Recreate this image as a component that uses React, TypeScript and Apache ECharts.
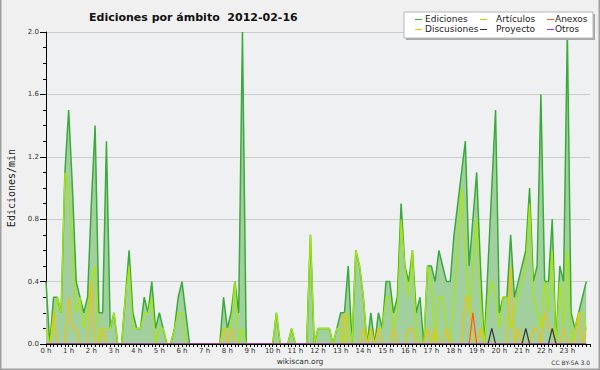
import React, { useEffect, useRef } from "react";
import * as echarts from "echarts";

const hourLabels = [
  "0 h", "1 h", "2 h", "3 h", "4 h", "5 h", "6 h", "7 h", "8 h", "9 h", "10 h", "11 h",
  "12 h", "13 h", "14 h", "15 h", "16 h", "17 h", "18 h", "19 h", "20 h", "21 h", "22 h", "23 h",
];
const yTickLabels = ["0.0", "0.4", "0.8", "1.2", "1.6", "2.0"];

// 10-minute samples, edits per minute
const ediciones = [
  0.4, 0.0, 0.3, 0.3, 0.2, 1.1, 1.5, 1.0, 0.4, 0.3, 0.2, 0.3,
  0.9, 1.4, 0.2, 0.2, 1.3, 0.1, 0.2, 0.0, 0.0, 0.3, 0.6, 0.2,
  0.1, 0.1, 0.3, 0.2, 0.4, 0.1, 0.2, 0.1, 0.0, 0.0, 0.1, 0.3,
  0.4, 0.2, 0.0, 0.0, 0.0, 0.0, 0.0, 0.0, 0.0, 0.0, 0.0, 0.3,
  0.1, 0.2, 0.4, 0.2, 2.0, 0.0, 0.0, 0.0, 0.0, 0.0, 0.0, 0.0,
  0.0, 0.2, 0.0, 0.0, 0.0, 0.1, 0.0, 0.0, 0.0, 0.0, 0.7, 0.0,
  0.1, 0.1, 0.1, 0.1, 0.0, 0.1, 0.2, 0.2, 0.5, 0.0, 0.6, 0.5,
  0.3, 0.0, 0.2, 0.0, 0.2, 0.1, 0.4, 0.4, 0.2, 0.3, 0.9, 0.5,
  0.4, 0.6, 0.2, 0.3, 0.0, 0.5, 0.5, 0.4, 0.6, 0.5, 0.4, 0.4,
  0.7, 0.9, 1.1, 1.3, 0.5, 0.8, 1.1, 0.5, 0.0, 0.5, 1.0, 1.5,
  0.2, 0.3, 0.3, 0.7, 0.3, 0.4, 0.5, 0.6, 1.0, 0.4, 0.5, 1.6,
  0.4, 0.4, 0.8, 0.0, 0.5, 0.4, 2.0, 0.2, 0.1, 0.2, 0.3, 0.4,
];
const articulos = [
  0.1, 0.0, 0.1, 0.3, 0.2, 1.1, 1.0, 0.6, 0.2, 0.3, 0.1, 0.2,
  0.4, 0.5, 0.0, 0.1, 0.1, 0.1, 0.2, 0.0, 0.0, 0.3, 0.5, 0.1,
  0.1, 0.1, 0.2, 0.2, 0.3, 0.0, 0.1, 0.1, 0.0, 0.0, 0.1, 0.2,
  0.2, 0.0, 0.0, 0.0, 0.0, 0.0, 0.0, 0.0, 0.0, 0.0, 0.0, 0.1,
  0.1, 0.1, 0.4, 0.0, 0.1, 0.0, 0.0, 0.0, 0.0, 0.0, 0.0, 0.0,
  0.0, 0.2, 0.0, 0.0, 0.0, 0.1, 0.0, 0.0, 0.0, 0.0, 0.7, 0.0,
  0.1, 0.1, 0.1, 0.1, 0.0, 0.1, 0.1, 0.0, 0.2, 0.0, 0.6, 0.5,
  0.3, 0.0, 0.1, 0.0, 0.1, 0.1, 0.3, 0.3, 0.1, 0.2, 0.8, 0.5,
  0.3, 0.6, 0.1, 0.0, 0.0, 0.5, 0.4, 0.0, 0.3, 0.3, 0.1, 0.0,
  0.3, 0.6, 1.0, 0.6, 0.2, 0.5, 0.8, 0.3, 0.0, 0.3, 0.4, 0.3,
  0.1, 0.3, 0.3, 0.1, 0.2, 0.3, 0.4, 0.5, 0.9, 0.3, 0.2, 0.1,
  0.4, 0.2, 0.6, 0.0, 0.4, 0.1, 0.6, 0.0, 0.1, 0.2, 0.2, 0.1,
];
const discusiones = [
  0.0, 0.0, 0.2, 0.0, 0.0, 0.0, 0.3, 0.1, 0.1, 0.0, 0.0, 0.0,
  0.4, 0.0, 0.0, 0.1, 0.0, 0.0, 0.0, 0.0, 0.0, 0.0, 0.0, 0.0,
  0.0, 0.0, 0.0, 0.0, 0.0, 0.0, 0.0, 0.0, 0.0, 0.0, 0.0, 0.0,
  0.0, 0.0, 0.0, 0.0, 0.0, 0.0, 0.0, 0.0, 0.0, 0.0, 0.0, 0.1,
  0.0, 0.1, 0.0, 0.0, 0.0, 0.0, 0.0, 0.0, 0.0, 0.0, 0.0, 0.0,
  0.0, 0.0, 0.0, 0.0, 0.0, 0.0, 0.0, 0.0, 0.0, 0.0, 0.0, 0.0,
  0.0, 0.0, 0.0, 0.0, 0.0, 0.0, 0.0, 0.2, 0.0, 0.0, 0.0, 0.0,
  0.1, 0.0, 0.1, 0.0, 0.1, 0.0, 0.0, 0.0, 0.1, 0.0, 0.0, 0.0,
  0.1, 0.1, 0.0, 0.0, 0.0, 0.1, 0.0, 0.1, 0.0, 0.0, 0.1, 0.0,
  0.0, 0.0, 0.0, 0.3, 0.3, 0.0, 0.0, 0.1, 0.0, 0.0, 0.0, 0.0,
  0.0, 0.0, 0.0, 0.5, 0.0, 0.1, 0.0, 0.0, 0.0, 0.1, 0.1, 0.0,
  0.2, 0.1, 0.1, 0.0, 0.0, 0.1, 0.0, 0.0, 0.0, 0.2, 0.0, 0.1,
];
const anexos = [
  0, 0, 0, 0, 0, 0, 0, 0, 0, 0, 0, 0,
  0, 0, 0, 0, 0, 0, 0, 0, 0, 0, 0, 0,
  0, 0, 0, 0, 0, 0, 0, 0, 0, 0, 0, 0,
  0, 0, 0, 0, 0, 0, 0, 0, 0, 0, 0, 0,
  0, 0, 0, 0, 0, 0, 0, 0, 0, 0, 0, 0,
  0, 0, 0, 0, 0, 0, 0, 0, 0, 0, 0, 0,
  0, 0, 0, 0, 0, 0, 0, 0, 0, 0, 0, 0,
  0, 0, 0, 0, 0, 0, 0, 0, 0, 0, 0, 0,
  0, 0, 0, 0, 0, 0, 0, 0, 0, 0, 0, 0,
  0, 0, 0, 0, 0, 0.2, 0, 0, 0, 0, 0, 0,
  0, 0, 0, 0, 0, 0, 0, 0, 0, 0, 0, 0,
  0, 0, 0, 0, 0, 0, 0, 0, 0, 0, 0, 0,
];
const proyecto = [
  0, 0, 0, 0, 0, 0, 0, 0, 0, 0, 0, 0,
  0, 0, 0, 0, 0, 0, 0, 0, 0, 0, 0, 0,
  0, 0, 0, 0, 0, 0, 0, 0, 0, 0, 0, 0,
  0, 0, 0, 0, 0, 0, 0, 0, 0, 0, 0, 0,
  0, 0, 0, 0, 0, 0, 0, 0, 0, 0, 0, 0,
  0, 0, 0, 0, 0, 0, 0, 0, 0, 0, 0, 0,
  0, 0, 0, 0, 0, 0, 0, 0, 0, 0, 0, 0,
  0, 0, 0, 0, 0, 0, 0, 0, 0, 0, 0, 0,
  0, 0, 0, 0, 0, 0, 0, 0, 0, 0, 0, 0,
  0, 0, 0, 0, 0, 0, 0, 0, 0, 0, 0.1, 0,
  0, 0, 0, 0, 0, 0, 0, 0.1, 0, 0, 0, 0,
  0, 0, 0.1, 0, 0, 0, 0, 0, 0, 0, 0, 0,
];
const otros = [
  0, 0, 0, 0, 0, 0, 0, 0, 0, 0, 0, 0,
  0, 0, 0, 0, 0, 0, 0, 0, 0, 0, 0, 0,
  0, 0, 0, 0, 0, 0, 0, 0, 0, 0, 0, 0,
  0, 0, 0, 0, 0, 0, 0, 0, 0, 0, 0, 0,
  0, 0, 0, 0, 0, 0, 0, 0, 0, 0, 0, 0,
  0, 0, 0, 0, 0, 0, 0, 0, 0, 0, 0, 0,
  0, 0, 0, 0, 0, 0, 0, 0, 0, 0, 0, 0,
  0, 0, 0, 0, 0, 0, 0, 0, 0, 0, 0, 0,
  0, 0, 0, 0, 0, 0, 0, 0, 0, 0, 0, 0,
  0, 0, 0, 0, 0, 0, 0, 0, 0, 0, 0, 0,
  0, 0, 0, 0, 0, 0, 0, 0, 0, 0, 0, 0,
  0, 0, 0, 0, 0, 0, 0, 0, 0, 0, 0, 0,
];

const seriesNames = ["Ediciones", "Artículos", "Discusiones", "Anexos", "Proyecto", "Otros"];
const seriesColors = ["#3aab3a", "#a8e800", "#f2c200", "#ff5a14", "#333333", "#9933ff"];
const seriesData = [ediciones, articulos, discusiones, anexos, proyecto, otros];

export default function App() {
  const ref = useRef<HTMLDivElement>(null);
  useEffect(() => {
    const chart = echarts.init(ref.current!, null, { renderer: "svg" });
    const font = "DejaVu Sans";

    const series = seriesData.map((arr, k) => ({
      type: "line",
      name: seriesNames[k],
      data: arr.map((v, i) => [i, v]),
      symbol: "none",
      showSymbol: false,
      silent: true,
      z: 2 + k,
      lineStyle: { color: seriesColors[k], width: k === 0 ? 1.5 : 1.2 },
      itemStyle: { color: seriesColors[k] },
      areaStyle: k === 0 ? { color: "#a2cf9e", opacity: 1 } : undefined,
    }));

    // legend laid out in 3 columns x 2 rows
    const legendCols = [415, 480, 547];
    const legendTextX = [425, 496, 555];
    const legendRows = [19, 29];
    const legendOrder = [
      ["Ediciones", 0, 0],
      ["Artículos", 1, 0],
      ["Anexos", 2, 0],
      ["Discusiones", 0, 1],
      ["Proyecto", 1, 1],
      ["Otros", 2, 1],
    ] as [string, number, number][];
    const legendGraphics: any[] = [
      { type: "rect", shape: { x: 406, y: 14, width: 189, height: 26 }, style: { fill: "#a8a8a8" }, z: 100 },
      { type: "rect", shape: { x: 404, y: 12, width: 189, height: 26 }, style: { fill: "#ffffff", stroke: "#b8b8b8", lineWidth: 1 }, z: 101 },
    ];
    legendOrder.forEach(([name, c, r]) => {
      const idx = seriesNames.indexOf(name);
      legendGraphics.push({
        type: "line",
        shape: { x1: legendCols[c], y1: legendRows[r] + 0.5, x2: legendCols[c] + 7, y2: legendRows[r] + 0.5 },
        style: { stroke: seriesColors[idx], lineWidth: 1 },
        z: 102,
      });
      legendGraphics.push({
        type: "text",
        x: legendTextX[c],
        y: legendRows[r],
        style: { text: name, fontSize: 9, fontFamily: font, fill: "#222", verticalAlign: "middle", align: "left" },
        z: 102,
      });
    });

    chart.setOption({
      animation: false,
      backgroundColor: "#f0f0f0",
      title: {
        text: "Ediciones por ámbito  2012-02-16",
        left: 84,
        top: 7,
        textStyle: { fontFamily: font, fontSize: 11, fontWeight: "bold", color: "#111" },
      },
      grid: {
        left: 46, right: 10, top: 32, bottom: 26,
        show: true, backgroundColor: "#eef0f2", borderWidth: 0,
        containLabel: false, outerBoundsMode: "none",
      },
      xAxis: {
        type: "value", min: 0, max: 144, interval: 6, z: 10,
        axisLine: { show: true, lineStyle: { color: "#000", width: 1 } },
        axisTick: { show: true, length: 3, lineStyle: { color: "#000" } },
        minorTick: { show: true, splitNumber: 6, length: 3, lineStyle: { color: "#000" } },
        axisLabel: {
          formatter: (v: number) => hourLabels[Math.round(v / 6)] ?? "",
          fontSize: 7, color: "#333", fontFamily: font, margin: 3, showMaxLabel: false,
        },
        splitLine: { show: false },
      },
      yAxis: {
        type: "value", min: 0, max: 2, interval: 0.4,
        name: "Ediciones/min", nameLocation: "middle", nameGap: 30,
        nameTextStyle: { fontFamily: "DejaVu Sans Mono", fontSize: 10, color: "#222" },
        axisLine: { show: true, lineStyle: { color: "#000", width: 1 } },
        axisTick: { show: true, length: 6, lineStyle: { color: "#000" } },
        minorTick: { show: true, splitNumber: 4, length: 3, lineStyle: { color: "#000" } },
        axisLabel: {
          formatter: (v: number) => yTickLabels[Math.round(v / 0.4)] ?? "",
          fontSize: 7, color: "#333", fontFamily: font, margin: 7,
        },
        splitLine: { show: true, lineStyle: { color: "#cccccc", width: 1 } },
      },
      series,
      graphic: [
        ...legendGraphics,
        {
          type: "text", x: 300, y: 361,
          style: { text: "wikiscan.org", fontSize: 7.5, fontFamily: font, fill: "#333", align: "center", verticalAlign: "middle" },
        },
        {
          type: "text", x: 590, y: 362,
          style: { text: "CC BY-SA 3.0", fontSize: 6, fontFamily: font, fill: "#333", align: "right", verticalAlign: "middle" },
        },
        {
          type: "polyline",
          shape: { points: [[0, 0], [0, 370], [600, 370], [600, 0]] },
          style: { stroke: "#a0a0a0", lineWidth: 3, fill: null },
          z: 200,
        },
      ],
    });
    return () => chart.dispose();
  }, []);
  return <div ref={ref} style={{ position: "absolute", left: 0, top: 0, width: 600, height: 370 }} />;
}
